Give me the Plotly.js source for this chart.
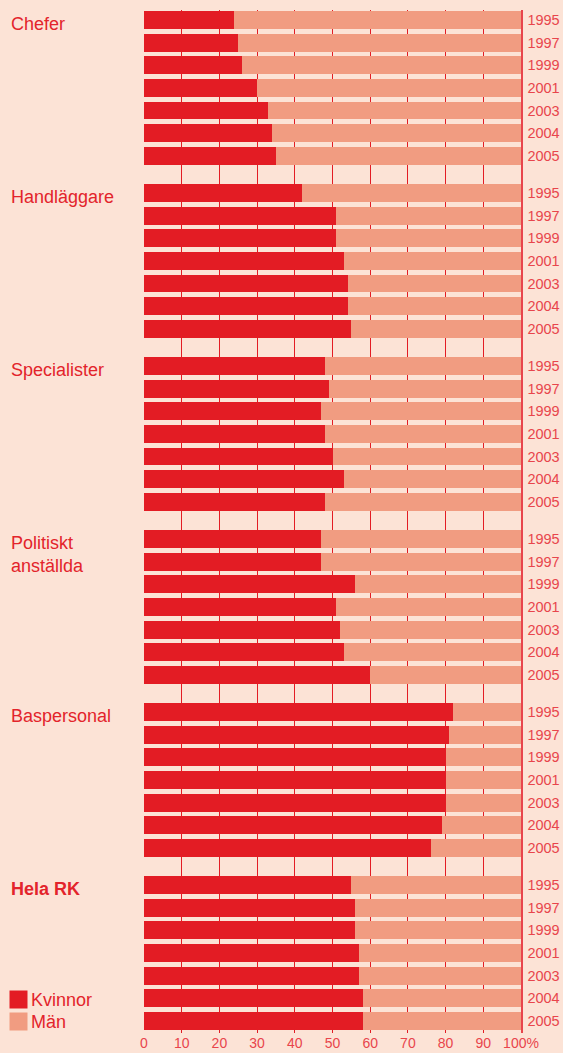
<!DOCTYPE html>
<html>
<head>
<meta charset="utf-8">
<script src="https://cdn.plot.ly/plotly-3.0.1.min.js"></script>
<style>
html,body{margin:0;padding:0;background:#fce3d6;}
#chart{width:563px;height:1053px;}
</style>
</head>
<body>
<div id="chart"></div>
<script>
// ---- data ----
const groups = ['Chefer', 'Handläggare', 'Specialister', 'Politiskt<br>anställda', 'Baspersonal', '<b>Hela RK</b>'];
const years = ['1995', '1997', '1999', '2001', '2003', '2004', '2005'];
const xTickVals = [0, 10, 20, 30, 40, 50, 60, 70, 80, 90, 100];
const xTickText = ['0', '10', '20', '30', '40', '50', '60', '70', '80', '90', '100%'];

const kvinnorChefer      = [24, 25, 26, 30, 33, 34, 35];
const kvinnorHandlaggare = [42, 51, 51, 53, 54, 54, 55];
const kvinnorSpecialister= [48, 49, 47, 48, 50, 53, 48];
const kvinnorPolitiskt   = [47, 47, 56, 51, 52, 53, 60];
const kvinnorBaspersonal = [82, 81, 80, 80, 80, 79, 76];
const kvinnorHelaRK      = [55, 56, 56, 57, 57, 58, 58];

const manChefer      = [76, 75, 74, 70, 67, 66, 65];
const manHandlaggare = [58, 49, 49, 47, 46, 46, 45];
const manSpecialister= [52, 51, 53, 52, 50, 47, 52];
const manPolitiskt   = [53, 53, 44, 49, 48, 47, 40];
const manBaspersonal = [18, 19, 20, 20, 20, 21, 24];
const manHelaRK      = [45, 44, 44, 43, 43, 42, 42];

const kvinnor = [kvinnorChefer, kvinnorHandlaggare, kvinnorSpecialister, kvinnorPolitiskt, kvinnorBaspersonal, kvinnorHelaRK];
const man = [manChefer, manHandlaggare, manSpecialister, manPolitiskt, manBaspersonal, manHelaRK];

// ---- layout constants ----
const RED = '#e31c24';
const SALMON = '#f19c81';
const BG = '#fce3d6';
const TXT = '#e3242b';
const TXT2 = '#e8454c';
const GROUP_STEP = 7.65;
const FONT = 'Liberation Sans, Arial, sans-serif';

const W = 563, H = 1053;
const ML = 144, MR = 42, MT = 10, MB = 20;
const PW = W - ML - MR, PH = H - MT - MB;
const pxX = px => (px - ML) / PW;
const pxY = py => (H - MB - py) / PH;

// build positions
const yPos = [], kVals = [], mVals = [], tickVals = [], tickText = [];
groups.forEach((g, gi) => {
  years.forEach((yr, i) => {
    const p = gi * GROUP_STEP + i;
    yPos.push(p);
    kVals.push(kvinnor[gi][i]);
    mVals.push(man[gi][i]);
    tickVals.push(p);
    tickText.push(yr);
  });
});

const traces = [
  {type: 'bar', orientation: 'h', name: 'Kvinnor', y: yPos, x: kVals, width: 0.79,
   marker: {color: RED, line: {width: 0}}, showlegend: false, hoverinfo: 'x+name'},
  {type: 'bar', orientation: 'h', name: 'Män', y: yPos, x: mVals, width: 0.79,
   marker: {color: SALMON, line: {width: 0}}, showlegend: false, hoverinfo: 'x+name'}
];

const annotations = groups.map((g, gi) => ({
  text: g, xref: 'paper', yref: 'y', x: pxX(9), y: gi * GROUP_STEP - 0.395,
  xanchor: 'left', yanchor: 'top', showarrow: false, align: 'left',
  font: {family: FONT, size: 18, color: TXT}, yshift: -1
}));
annotations.push(
  {text: 'Kvinnor', xref: 'paper', yref: 'paper', x: pxX(29), y: pxY(1000), xanchor: 'left', yanchor: 'middle',
   showarrow: false, font: {family: FONT, size: 18, color: TXT}},
  {text: 'Män', xref: 'paper', yref: 'paper', x: pxX(29), y: pxY(1022), xanchor: 'left', yanchor: 'middle',
   showarrow: false, font: {family: FONT, size: 18, color: TXT}}
);

const shapes = [
  {type: 'rect', xref: 'paper', yref: 'paper', x0: pxX(9.5), x1: pxX(27.5), y0: pxY(1008.5), y1: pxY(990.5),
   fillcolor: RED, line: {width: 0}},
  {type: 'rect', xref: 'paper', yref: 'paper', x0: pxX(9.5), x1: pxX(27.5), y0: pxY(1030.5), y1: pxY(1012.5),
   fillcolor: SALMON, line: {width: 0}}
];

const layout = {
  width: W, height: H,
  margin: {l: ML, r: MR, t: MT, b: MB, pad: 0},
  paper_bgcolor: BG, plot_bgcolor: BG,
  barmode: 'stack',
  font: {family: FONT, color: TXT},
  xaxis: {
    range: [0, 100], tickvals: xTickVals, ticktext: xTickText,
    showgrid: true, gridcolor: RED, gridwidth: 1, zeroline: false,
    showline: false, ticks: '', ticklabelstandoff: 0,
    tickfont: {family: FONT, size: 14, color: TXT2}, fixedrange: true
  },
  yaxis: {
    range: [44.785, -0.44], side: 'right', tickvals: tickVals, ticktext: tickText,
    showgrid: false, zeroline: false, showline: true, linecolor: TXT2, linewidth: 1.5,
    ticks: '', ticklabelstandoff: 2,
    tickfont: {family: FONT, size: 14.5, color: TXT2}, fixedrange: true
  },
  annotations: annotations,
  shapes: shapes,
  showlegend: false
};

Plotly.newPlot('chart', traces, layout, {displayModeBar: false, staticPlot: true});
</script>
</body>
</html>
